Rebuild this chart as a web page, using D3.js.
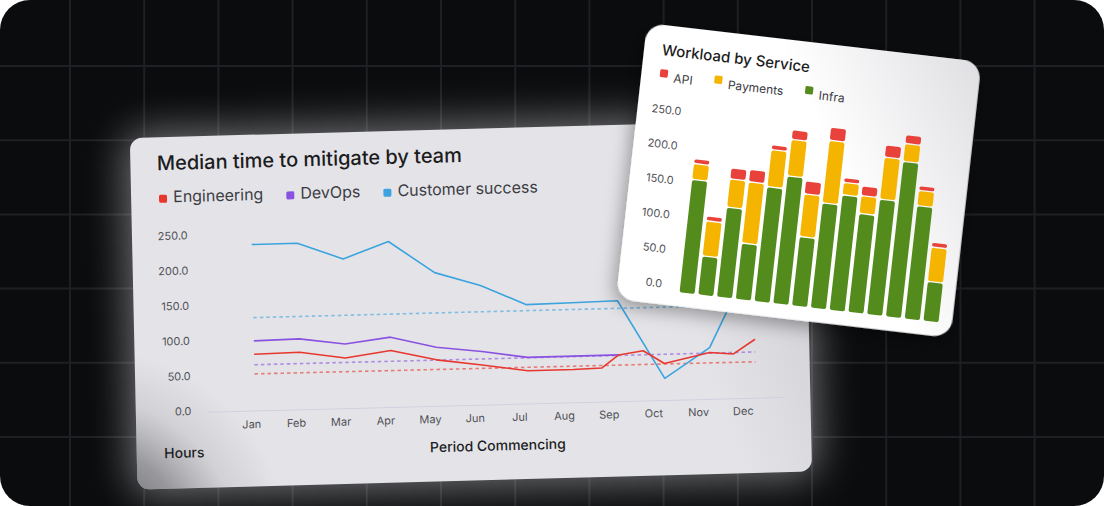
<!DOCTYPE html>
<html><head><meta charset="utf-8">
<script src="https://cdn.jsdelivr.net/npm/d3@7"></script>
<style>
html,body{margin:0;padding:0;background:#ffffff;}
svg{display:block;font-family:Inter,"Noto Sans",sans-serif;}
</style>
</head><body>
<svg id="c" width="1104" height="506"></svg>
<script>
// ---------------- DATA ----------------
// Line chart: Median time to mitigate by team
const months = ["Jan","Feb","Mar","Apr","May","Jun","Jul","Aug","Sep","Oct","Nov","Dec"];
const lineYTicks = [0, 50, 100, 150, 200, 250];
const teams = ["Engineering", "DevOps", "Customer success"];
const teamColors = ["#e8372f", "#8a52e0", "#3ca3df"];
const customerSuccess = [236, 236, 212, 235, 189, 169, 140, 141, 142, 30, 72, 200];
const devOps = [99, 100, 91, 99, 83, 75, 65, 65, 65];            // Jan..Sep
const engineeringAt = [0, 1, 2, 3, 4, 5, 6, 7, 7.62, 8, 8.54, 9, 10, 10.52, 11]; // month index
const engineering = [80, 81, 71, 80, 65, 56, 46, 46, 47, 65, 70, 51, 65, 62, 82];
const trendAt = [0, 11];
const engineeringTrend = [52, 50];
const devOpsTrend = [65, 64];
const customerSuccessTrend = [132, 131];

// Bar chart: Workload by Service
const periods = ["P1","P2","P3","P4","P5","P6","P7","P8","P9","P10","P11","P12","P13","P14"];
const services = ["API", "Payments", "Infra"];
const serviceColors = ["#e8423b", "#f5b400", "#548b1d"];
const infra    = [163, 55, 129, 80, 165, 184, 99, 151, 166, 142, 166, 224, 163, 56];
const payments = [23, 51, 41, 89, 54, 53, 62, 91, 18, 26, 61, 26, 22, 50];
const api      = [7, 7, 16, 18, 7, 14, 19, 19, 7, 14, 18, 13, 7, 7];
const barYTicks = [0, 50, 100, 150, 200, 250];

// ---------------- DRAW ----------------
const W = 1104, H = 506;
const svg = d3.select("#c");
const defs = svg.append("defs");

defs.append("clipPath").attr("id","frame")
  .append("rect").attr("width",W).attr("height",H).attr("rx",30);

const glow = defs.append("filter").attr("id","glow")
  .attr("x","-30%").attr("y","-40%").attr("width","160%").attr("height","180%");
glow.append("feGaussianBlur").attr("stdDeviation",20);

const shadow = defs.append("filter").attr("id","shadow")
  .attr("x","-20%").attr("y","-20%").attr("width","140%").attr("height","140%");
shadow.append("feDropShadow").attr("dx",-3).attr("dy",6).attr("stdDeviation",9)
  .attr("flood-color","#000").attr("flood-opacity",0.35);

// background
const root = svg.append("g").attr("clip-path","url(#frame)");
root.append("rect").attr("width",W).attr("height",H).attr("fill","#0b0c0e");
const grid = root.append("g").attr("stroke","#1f2023").attr("stroke-width",2);
d3.range(70, W, 74.2).forEach(x => grid.append("line").attr("x1",x).attr("x2",x).attr("y1",0).attr("y2",H));
d3.range(66, H, 74.2).forEach(y => grid.append("line").attr("y1",y).attr("y2",y).attr("x1",0).attr("x2",W));

// ---------- Left card (line chart) ----------
const LW = 675, LH = 352;
const leftM = "matrix(0.99926,-0.02696,0.02188,0.99886,129.8,138)";

root.append("rect").attr("transform",leftM)
  .attr("x",-6).attr("y",-6).attr("width",LW+12).attr("height",LH+12).attr("rx",20)
  .attr("fill","#ffffff").attr("opacity",0.42).attr("filter","url(#glow)");

const lc = root.append("g").attr("transform",leftM);
const gradL = defs.append("radialGradient").attr("id","shadeL")
  .attr("gradientUnits","userSpaceOnUse").attr("cx",-50).attr("cy",410).attr("r",200);
gradL.append("stop").attr("offset",0).attr("stop-color","#2c2c32").attr("stop-opacity",0.85);
gradL.append("stop").attr("offset",0.5).attr("stop-color","#4a4a50").attr("stop-opacity",0.5);
gradL.append("stop").attr("offset",0.75).attr("stop-color","#6a6a70").attr("stop-opacity",0.15);
gradL.append("stop").attr("offset",1).attr("stop-color","#6a6a70").attr("stop-opacity",0);
const gradR = defs.append("linearGradient").attr("id","shadeR")
  .attr("gradientUnits","userSpaceOnUse").attr("x1",LW).attr("y1",0).attr("x2",LW-170).attr("y2",60);
gradR.append("stop").attr("offset",0).attr("stop-color","#9a9aa4").attr("stop-opacity",0.35);
gradR.append("stop").attr("offset",1).attr("stop-color","#9a9aa4").attr("stop-opacity",0);

lc.append("rect").attr("width",LW).attr("height",LH).attr("rx",12).attr("fill","#e4e4e8");
lc.append("rect").attr("width",LW).attr("height",LH).attr("rx",12).attr("fill","url(#shadeR)");
lc.append("rect").attr("width",LW).attr("height",LH).attr("rx",12).attr("fill","url(#shadeL)");

lc.append("text").attr("x",26.5).attr("y",33).attr("font-size",20).attr("font-weight",500)
  .attr("fill","#1c1c1e").text("Median time to mitigate by team");

// legend
let lx = 27.9;
teams.forEach((t,i) => {
  lc.append("rect").attr("x",lx).attr("y",57.7).attr("width",8).attr("height",8).attr("rx",1.5)
    .attr("fill",teamColors[i]);
  const tx = lc.append("text").attr("x",lx+14.2).attr("y",65.5).attr("font-size",16)
    .attr("fill","#3c3c43").text(t);
  lx = lx + 14.2 + tx.node().getComputedTextLength() + 23;
});

const yL = d3.scaleLinear().domain([0,250]).range([276,100]);
const xAxisL = d3.scalePoint().domain(months).range([115.7,607.6]);
const xLineL = d3.scaleLinear().domain([0,11]).range([119.6,620.9]);

lc.append("g").selectAll("text").data(lineYTicks).join("text")
  .attr("x",55.7).attr("y",d => yL(d)-1).attr("text-anchor","end")
  .attr("dominant-baseline","central").attr("font-size",11).attr("fill","#505056")
  .text(d => d3.format(".1f")(d));

lc.append("line").attr("x1",72).attr("x2",650).attr("y1",yL(0)+0.5).attr("y2",yL(0)+1.2)
  .attr("stroke","#d0d1de").attr("stroke-width",1);

lc.append("g").selectAll("text").data(months).join("text")
  .attr("x",d => xAxisL(d)).attr("y",289.6).attr("text-anchor","middle")
  .attr("dominant-baseline","central").attr("font-size",11).attr("fill","#505056")
  .text(d => d);

lc.append("text").attr("x",361.4).attr("y",322.6).attr("text-anchor","middle")
  .attr("font-size",14).attr("font-weight",500).attr("fill","#1c1c1e").text("Period Commencing");
lc.append("text").attr("x",27.5).attr("y",321.4)
  .attr("font-size",14).attr("font-weight",500).attr("fill","#1c1c1e").text("Hours");

const line = d3.line().x(d => xLineL(d[0])).y(d => yL(d[1]));
const trends = [
  [trendAt.map((x,i)=>[x,customerSuccessTrend[i]]), teamColors[2]],
  [trendAt.map((x,i)=>[x,devOpsTrend[i]]), teamColors[1]],
  [trendAt.map((x,i)=>[x,engineeringTrend[i]]), teamColors[0]]
];
trends.forEach(([pts,c]) => {
  lc.append("path").attr("d",line(pts)).attr("fill","none").attr("stroke",c)
    .attr("stroke-width",1.6).attr("stroke-dasharray","3.5,3").attr("opacity",0.6);
});
const series = [
  [customerSuccess.map((v,i)=>[i,v]), teamColors[2]],
  [devOps.map((v,i)=>[i,v]), teamColors[1]],
  [engineering.map((v,i)=>[engineeringAt[i],v]), teamColors[0]]
];
series.forEach(([pts,c]) => {
  lc.append("path").attr("d",line(pts)).attr("fill","none").attr("stroke",c)
    .attr("stroke-width",1.6).attr("stroke-linejoin","round");
});

// ---------- Right card (bar chart) ----------
const RW = 336, RH = 277;
const rightM = "matrix(0.9955,0.116,-0.112,0.996,647,23)";
const rc = root.append("g").attr("transform",rightM);
const gradB = defs.append("linearGradient").attr("id","shadeB")
  .attr("gradientUnits","userSpaceOnUse").attr("x1",RW).attr("y1",0).attr("x2",RW-150).attr("y2",90);
gradB.append("stop").attr("offset",0).attr("stop-color","#b8b8c0").attr("stop-opacity",0.45);
gradB.append("stop").attr("offset",1).attr("stop-color","#b8b8c0").attr("stop-opacity",0);

rc.append("rect").attr("width",RW).attr("height",RH).attr("rx",18).attr("fill","#ffffff")
  .attr("filter","url(#shadow)");
rc.append("rect").attr("width",RW).attr("height",RH).attr("rx",18).attr("fill","url(#shadeB)");

rc.append("text").attr("x",18).attr("y",30).attr("font-size",15).attr("font-weight",500)
  .attr("fill","#1c1c1e").text("Workload by Service");

let bx = 18.5;
services.forEach((s,i) => {
  rc.append("rect").attr("x",bx).attr("y",44).attr("width",8).attr("height",8).attr("rx",1.5)
    .attr("fill",serviceColors[i]);
  const tx = rc.append("text").attr("x",bx+14).attr("y",56).attr("font-size",12)
    .attr("fill","#3c3c43").text(s);
  bx = bx + 14 + tx.node().getComputedTextLength() + 21.5;
});

const yB = d3.scaleLinear().domain([0,250]).range([263,90.25]);
const xB = d3.scaleBand().domain(periods).range([60.4,324.3]).paddingInner(0.2).paddingOuter(0.1);

rc.append("g").selectAll("text").data(barYTicks).join("text")
  .attr("x",44).attr("y",d => yB(d)-6.6).attr("text-anchor","end")
  .attr("dominant-baseline","central").attr("font-size",11).attr("fill","#505056")
  .text(d => d3.format(".1f")(d));

const table = periods.map((p,i) => ({period:p, Infra:infra[i], Payments:payments[i], API:api[i]}));
const stack = d3.stack().keys(["Infra","Payments","API"])(table);
const gap = 1.3;
stack.forEach((layer, li) => {
  const color = serviceColors[services.indexOf(layer.key)];
  rc.append("g").selectAll("rect").data(layer).join("rect")
    .attr("x",d => xB(d.data.period))
    .attr("width",xB.bandwidth())
    .attr("y",d => yB(d[1]))
    .attr("height",d => Math.max(0.5, yB(d[0]) - yB(d[1]) - (li>0 ? gap : 0)))
    .attr("rx",2)
    .attr("fill",color);
});
</script>
</body></html>
